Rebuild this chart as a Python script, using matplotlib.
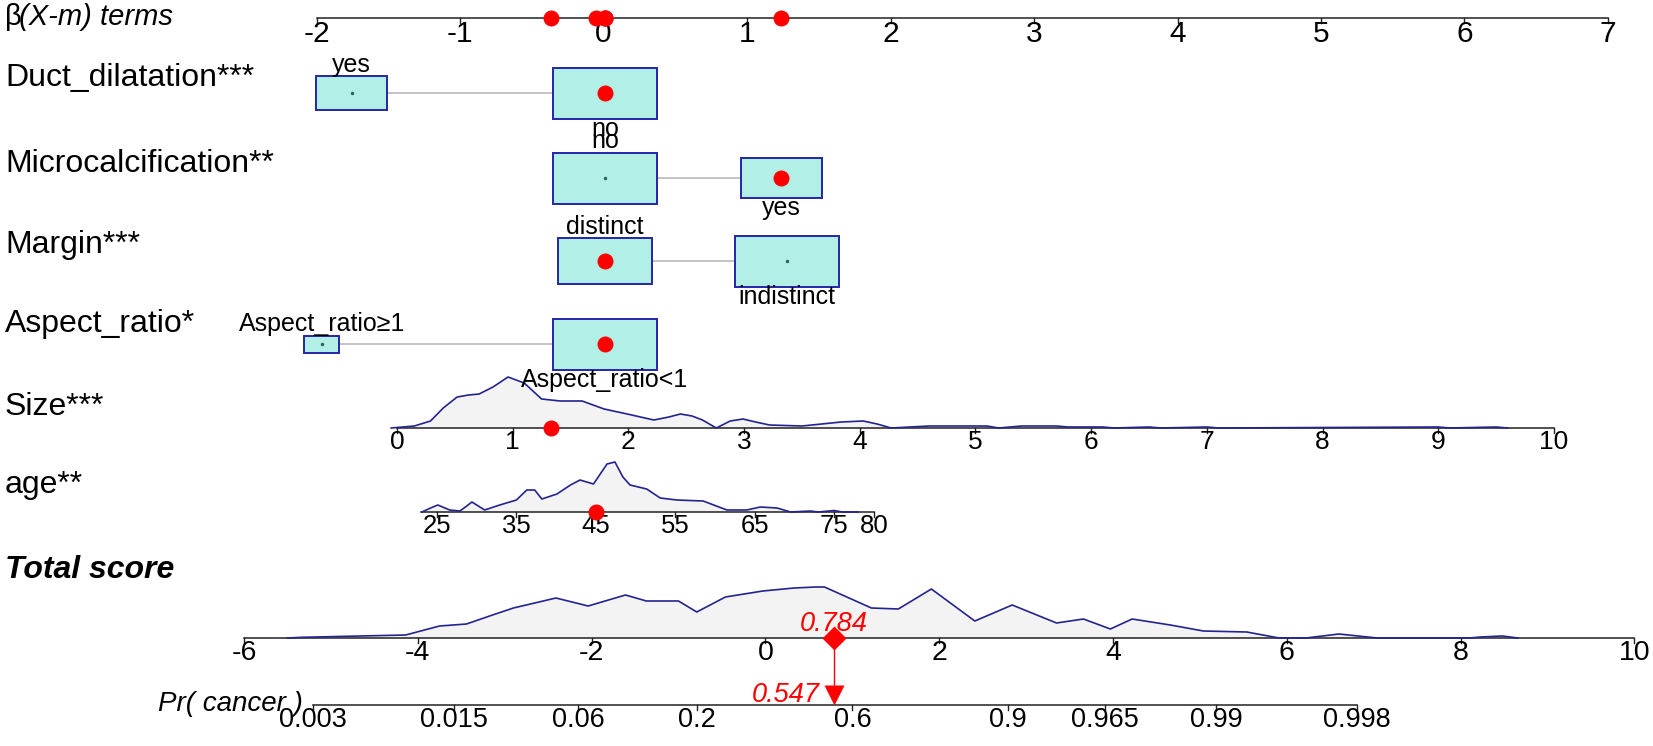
import numpy as np
import matplotlib
matplotlib.use("Agg")
import matplotlib.pyplot as plt
from matplotlib.patches import Rectangle

plt.rcParams["font.family"] = ["Liberation Sans", "DejaVu Sans"]

# ---- values ----
beta_ticks = [-2, -1, 0, 1, 2, 3, 4, 5, 6, 7]

cat_names = ["Duct_dilatation***", "Microcalcification**", "Margin***", "Aspect_ratio*"]
cat_levels = [["yes", "no"], ["no", "yes"], ["distinct", "indistinct"],
              ["Aspect_ratio\u22651", "Aspect_ratio<1"]]
cat_beta = [[-1.755, 0.01], [0.01, 1.24], [0.01, 1.279], [-1.962, 0.01]]
cat_freq = [[0.315, 0.685], [0.63, 0.37], [0.45, 0.55], [0.10, 0.90]]
cat_selected = [1, 1, 0, 1]

size_ticks = [0, 1, 2, 3, 4, 5, 6, 7, 8, 9, 10]
size_coef, size_mean, size_value = 0.8063, 1.785, 1.33
size_x = [-0.05, 0.15, 0.29, 0.4, 0.52, 0.62, 0.71, 0.83, 0.96, 1.1, 1.25, 1.41,
          1.6, 1.79, 1.99, 2.22, 2.35, 2.45, 2.55, 2.64, 2.76, 2.88, 2.99, 3.1,
          3.22, 3.5, 3.84, 4.03, 4.15, 4.27, 4.6, 5.1, 5.2, 5.4, 5.7, 5.8, 6.1,
          6.2, 6.5, 6.6, 7.0, 7.1, 9.0, 9.1, 9.5, 9.6]
size_d = [0, 2, 7, 20, 31, 33, 34, 41, 51, 45, 29, 27, 27, 19, 14, 8, 11, 14, 12,
          8, 0, 7, 9, 6, 3, 2, 6, 7, 4, 0, 2, 2, 0, 2, 2, 1, 1, 0, 1, 0, 1, 0,
          1, 0, 1, 0]

age_ticks = [25, 35, 45, 55, 65, 75, 80]
age_coef, age_mean, age_value = 0.05536, 45.96, 45
age_range = [23, 80]
age_x = [23.1, 24.2, 25.1, 26.6, 27.9, 29.4, 31.0, 32.9, 35.0, 36.3, 37.3, 38.2,
         40.1, 41.8, 43.0, 44.7, 45.3, 46.4, 47.4, 48.4, 49.3, 51.4, 53.1, 55.2,
         58.5, 61.5, 64.0, 65.7, 67.8, 69.5, 72, 73, 75, 76, 78]
age_d = [0, 4, 7, 2, 1, 10, 2, 7, 12, 22, 22, 13, 18, 27, 32, 28, 35, 48, 50, 35,
         27, 23, 14, 12, 11, 2, 2, 5, 4, 0, 1, 0, 1.5, 0, 0]

total_ticks = [-6, -4, -2, 0, 2, 4, 6, 8, 10]
total_x = [-5.5, -5.33, -4.66, -4.14, -3.75, -3.44, -3.14, -2.9, -2.41, -2.04,
           -1.61, -1.37, -1.0, -0.79, -0.46, -0.03, 0.33, 0.58, 0.68, 1.22, 1.53,
           1.91, 2.41, 2.84, 3.35, 3.66, 3.97, 4.22, 4.66, 5.04, 5.54, 5.91, 6.22,
           6.6, 7.04, 8.1, 8.23, 8.48, 8.66]
total_d = [0, 0.7, 2, 3, 12, 14, 23, 30, 40, 32, 43, 37, 37, 26, 41, 47, 50, 51,
           51, 30, 29, 49, 17, 33, 15, 19, 9, 19, 13, 7, 6, 0, 0, 4, 0, 0, 1, 2, 0]
total_score = 0.784

pr_ticks = [0.003, 0.015, 0.06, 0.2, 0.6, 0.9, 0.965, 0.99, 0.998]
pr_value = 0.547

# ---- layout (pixels) ----
W, H = 1653, 746
BETA_PX, BETA_LEFT = 143.5, 316.5          # px per beta unit, px of beta = -2
TOT_PX, TOT_LEFT = 86.9, 244.0             # px per total-score unit, px of -6
Y_TOP, Y_CAT, Y_SIZE, Y_AGE, Y_TOT, Y_PR = 18, [93, 178, 261, 344], 428, 512, 638, 705
BOX_W, BOX_H = 0.73, 51

NAVY = "#23238f"
BOX_FACE = "#b2efe6"
BOX_EDGE = "#2525a8"


def px2beta(px):
    return -2 + (px - BETA_LEFT) / BETA_PX


def tot2beta(t):
    return px2beta(TOT_LEFT + (np.asarray(t, float) + 6) * TOT_PX)


def pr2beta(p):
    p = np.asarray(p, float)
    offset = total_score - np.log(pr_value / (1 - pr_value))
    return tot2beta(np.log(p / (1 - p)) + offset)


fig = plt.figure(figsize=(W / 100, H / 100), dpi=100)
ax = fig.add_axes([0, 0, 1, 1])
ax.set_xlim(px2beta(0), px2beta(W))
ax.set_ylim(H, 0)
ax.axis("off")


def draw_axis(y, pos, labels, fs, lo=None, hi=None):
    pos = np.asarray(pos, float)
    lo = pos.min() if lo is None else lo
    hi = pos.max() if hi is None else hi
    ax.plot([lo, hi], [y, y], color="#222222", lw=1.1, zorder=2)
    for p, lab in zip(pos, labels):
        ax.plot([p, p], [y, y + 5], color="#222222", lw=1.0, zorder=2)
        ax.text(p, y + 2, lab, ha="center", va="top", fontsize=fs, zorder=5)


def draw_density(y, xb, d):
    xb = np.asarray(xb, float)
    d = np.asarray(d, float)
    ax.fill_between(xb, y - d, y, color="#f3f3f3", lw=0, zorder=1)
    ax.plot(xb, y - d, color=NAVY, lw=1.2, zorder=3)


def row_label(y, txt, **kw):
    ax.text(px2beta(5), y, txt, ha="left", va="baseline", fontsize=23, zorder=5, **kw)


# ---- beta axis on top ----
draw_axis(Y_TOP, beta_ticks, [str(t) for t in beta_ticks], 21.5)
ax.text(px2beta(5), 25, "\u03b2", ha="left", va="baseline", fontsize=21)
ax.text(px2beta(19), 25, "(X-m) terms", ha="left", va="baseline", fontsize=21,
        style="italic")

top_dots = [size_coef * (size_value - size_mean), age_coef * (age_value - age_mean)]
top_dots += [cat_beta[i][cat_selected[i]] for i in range(len(cat_names))]
ax.plot(top_dots, [Y_TOP] * len(top_dots), "o", color="red", ms=11.5, mec="none", zorder=6)

# ---- categorical rows ----
name_base = [86, 172, 253, 332]
for i, name in enumerate(cat_names):
    y = Y_CAT[i]
    row_label(name_base[i], name)
    b = cat_beta[i]
    ax.plot(b, [y, y], color="#c4c4c4", lw=1.4, zorder=1)
    fmax = max(cat_freq[i])
    for j, lev in enumerate(cat_levels[i]):
        s = np.sqrt(cat_freq[i][j] / fmax)
        w, h = BOX_W * s, BOX_H * s
        ax.add_patch(Rectangle((b[j] - w / 2, y - h / 2), w, h, fc=BOX_FACE,
                               ec=BOX_EDGE, lw=1.4, zorder=2))
        if j == cat_selected[i]:
            ax.plot(b[j], y, "o", color="red", ms=11.5, mec="none", zorder=4)
        else:
            ax.plot(b[j], y, "o", color="#2f5f5f", ms=2.5, mec="none", zorder=4)
        if j == 0:
            ax.text(b[j], y - h / 2 - 4, lev, ha="center", va="baseline",
                    fontsize=18, zorder=5)
        else:
            ax.text(b[j], y + h / 2 + 17, lev, ha="center", va="baseline",
                    fontsize=18, zorder=5)

# ---- size ----
row_label(415, "Size***")
size_b = lambda v: size_coef * (np.asarray(v, float) - size_mean)
draw_density(Y_SIZE, size_b(size_x), size_d)
draw_axis(Y_SIZE, size_b(size_ticks), [str(t) for t in size_ticks], 19)
ax.plot(size_b(size_value), Y_SIZE, "o", color="red", ms=11.5, mec="none", zorder=6)

# ---- age ----
row_label(493, "age**")
age_b = lambda v: age_coef * (np.asarray(v, float) - age_mean)
draw_density(Y_AGE, age_b(age_x), age_d)
draw_axis(Y_AGE, age_b(age_ticks), [str(t) for t in age_ticks], 18.5,
          lo=age_b(age_range[0]), hi=age_b(age_range[1]))
ax.plot(age_b(age_value), Y_AGE, "o", color="red", ms=11.5, mec="none", zorder=6)

# ---- total score ----
row_label(578, "Total score", weight="bold", style="italic")
draw_density(Y_TOT, tot2beta(total_x), total_d)
draw_axis(Y_TOT, tot2beta(total_ticks), [str(t) for t in total_ticks], 20.5)

# ---- probability ----
ax.text(px2beta(303), 711, "Pr( cancer )", ha="right", va="baseline", fontsize=20,
        style="italic", zorder=4)
draw_axis(Y_PR, pr2beta(pr_ticks), [str(p) for p in pr_ticks], 19.5)

xs = tot2beta(total_score)
ax.plot([xs, xs], [Y_TOT, Y_PR - 12], color="red", lw=1.0, zorder=6)
ax.plot(xs, Y_TOT, "D", color="red", ms=12, mec="none", zorder=7)
ax.plot(xs, Y_PR - 10, "v", color="red", ms=15, mec="none", zorder=7)
ax.text(xs, Y_TOT - 1, f"{total_score:.3f}", ha="center", va="bottom", fontsize=19.5,
        style="italic", color="red", zorder=6)
ax.text(xs - 0.095, Y_PR - 10, f"{pr_value:.3f}", ha="right", va="center",
        fontsize=19.5, style="italic", color="red", zorder=6)

fig.savefig("out.png", dpi=100)
